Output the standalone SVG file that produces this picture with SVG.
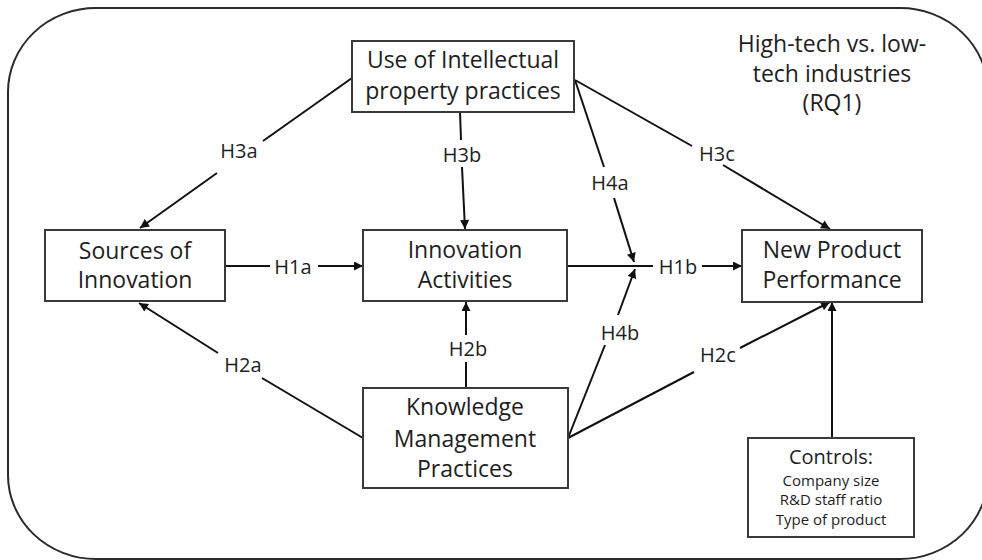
<svg xmlns="http://www.w3.org/2000/svg" width="982" height="560" viewBox="0 0 982 560">
<defs>
<marker id="ah" viewBox="0 0 10 10" refX="10" refY="5" markerWidth="10" markerHeight="9" markerUnits="userSpaceOnUse" orient="auto">
<path d="M0,0 L10,5 L0,10 z" fill="#111"/>
</marker>
<style>
.box{fill:#fff;stroke:#3a3a3a;stroke-width:2}
.frame{fill:none;stroke:#2a2a2a;stroke-width:2}
.t{font-family:"Open Sans","Liberation Sans",sans-serif;font-size:23px;fill:#1e1e1e;text-anchor:middle}
.lbl{font-family:"Open Sans","Liberation Sans",sans-serif;font-size:20px;fill:#1e1e1e;text-anchor:middle;dominant-baseline:central}
.c{stroke:#111;stroke-width:2;fill:none}
.a{marker-end:url(#ah)}
</style>
</defs>
<rect class="frame" x="8" y="8" width="980" height="551" rx="88" ry="84"/>
<g id="context">
<text class="t" x="832" y="52">High-tech vs. low-</text>
<text class="t" x="832" y="82">tech industries</text>
<text class="t" x="832" y="111">(RQ1)</text>
</g>
<g id="connectors">
<line class="c" x1="352" y1="78" x2="263" y2="141"/>
<line class="c a" x1="217" y1="173" x2="140" y2="228"/>
<text class="lbl" x="239" y="150">H3a</text>
<line class="c" x1="460" y1="112" x2="461" y2="140"/>
<line class="c a" x1="462" y1="167" x2="465" y2="229"/>
<text class="lbl" x="462" y="154">H3b</text>
<line class="c" x1="575" y1="80" x2="692" y2="146"/>
<line class="c a" x1="723" y1="165" x2="830" y2="229"/>
<text class="lbl" x="717" y="153">H3c</text>
<line class="c" x1="575" y1="80" x2="604" y2="167"/>
<line class="c a" x1="614" y1="198" x2="634" y2="262"/>
<text class="lbl" x="610" y="182">H4a</text>
<line class="c" x1="568" y1="438" x2="605" y2="345"/>
<line class="c a" x1="618" y1="315" x2="635" y2="269"/>
<text class="lbl" x="620" y="332">H4b</text>
<line class="c" x1="225" y1="266" x2="270" y2="266"/>
<line class="c a" x1="318" y1="266" x2="363" y2="266"/>
<text class="lbl" x="293" y="266">H1a</text>
<line class="c" x1="567" y1="266" x2="653" y2="266"/>
<line class="c a" x1="702" y1="266" x2="742" y2="266"/>
<text class="lbl" x="678" y="266">H1b</text>
<line class="c" x1="363" y1="438" x2="262" y2="378"/>
<line class="c a" x1="218" y1="353" x2="139" y2="303"/>
<text class="lbl" x="243" y="364">H2a</text>
<line class="c" x1="466" y1="388" x2="466" y2="362"/>
<line class="c a" x1="466" y1="335" x2="466" y2="302"/>
<text class="lbl" x="468" y="348">H2b</text>
<line class="c" x1="568" y1="438" x2="694" y2="372"/>
<line class="c a" x1="740" y1="348" x2="830" y2="302"/>
<text class="lbl" x="718" y="354">H2c</text>
<line class="c a" x1="832" y1="438" x2="832" y2="302"/>
</g>
<g id="ip">
<rect class="box" x="352" y="41" width="222" height="71"/>
<text class="t" x="463" y="68">Use of Intellectual</text>
<text class="t" x="463" y="99">property practices</text>
</g>
<g id="sources">
<rect class="box" x="45" y="230" width="180" height="71"/>
<text class="t" x="135" y="259">Sources of</text>
<text class="t" x="135" y="288">Innovation</text>
</g>
<g id="innovation">
<rect class="box" x="363" y="230" width="204" height="71"/>
<text class="t" x="465" y="258">Innovation</text>
<text class="t" x="465" y="288">Activities</text>
</g>
<g id="npp">
<rect class="box" x="742" y="230" width="180" height="72"/>
<text class="t" x="832" y="258">New Product</text>
<text class="t" x="832" y="288">Performance</text>
</g>
<g id="knowledge">
<rect class="box" x="363" y="388" width="205" height="100"/>
<text class="t" x="465" y="415">Knowledge</text>
<text class="t" x="465" y="447">Management</text>
<text class="t" x="465" y="477">Practices</text>
</g>
<g id="controls">
<rect class="box" x="748" y="438" width="166" height="99"/>
<text class="t" x="831" y="464" style="font-size:20px">Controls:</text>
<text class="t" x="831" y="486" style="font-size:15px">Company size</text>
<text class="t" x="831" y="505" style="font-size:15px">R&amp;D staff ratio</text>
<text class="t" x="831" y="525" style="font-size:15px">Type of product</text>
</g>
</svg>
